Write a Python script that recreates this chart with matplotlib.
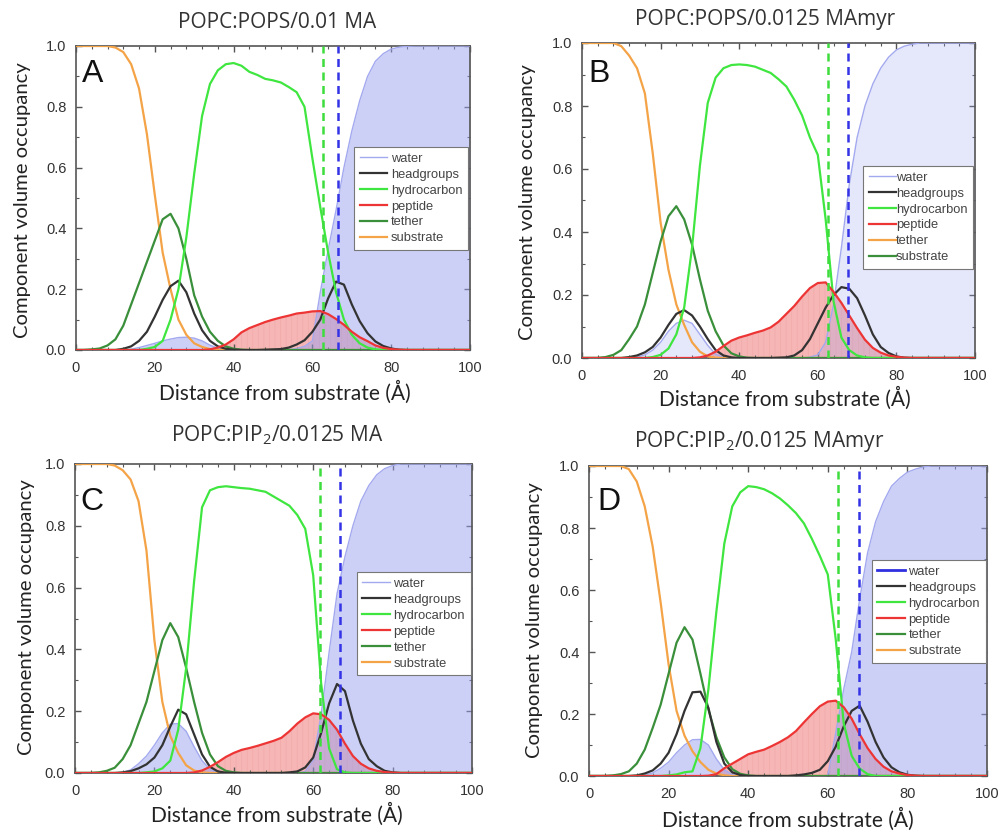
import numpy as np
import matplotlib
matplotlib.use("Agg")
import matplotlib.pyplot as plt
from matplotlib.lines import Line2D
from matplotlib.ticker import MultipleLocator, FormatStrFormatter

plt.rcParams['font.family'] = ['Liberation Sans', 'DejaVu Sans']
plt.rcParams['hatch.linewidth'] = 0.6
plt.rcParams['mathtext.fontset'] = 'custom'
plt.rcParams['mathtext.rm'] = 'Open Sans'

# distance from substrate (Å), sampled every 2 Å
distance = np.arange(0, 101, 2)

# ---------------- POPC:POPS / 0.01 MA ----------------
water_a = [0, 0, 0, 0, 0, 0, 0.001, 0.003, 0.008, 0.015,
           0.022, 0.03, 0.036, 0.041, 0.042, 0.039, 0.03, 0.016, 0.006, 0.002,
           0, 0, 0, 0, 0, 0, 0, 0.002, 0.005, 0.012,
           0.03, 0.19, 0.33, 0.46, 0.6, 0.72, 0.82, 0.9, 0.95, 0.975,
           0.99, 0.996, 0.999, 1, 1, 1, 1, 1, 1, 1,
           1]
headgroups_a = [0, 0, 0, 0, 0, 0, 0.004, 0.012, 0.03, 0.06,
                0.11, 0.165, 0.21, 0.228, 0.19, 0.12, 0.065, 0.03, 0.012, 0.004,
                0.001, 0, 0, 0, 0.001, 0.002, 0.003, 0.008, 0.018, 0.032,
                0.06, 0.1, 0.17, 0.225, 0.215, 0.15, 0.095, 0.055, 0.028, 0.013,
                0.005, 0.001, 0, 0, 0, 0, 0, 0, 0, 0,
                0]
hydrocarbon_a = [0, 0, 0, 0, 0, 0, 0, 0, 0, 0.004,
                 0.01, 0.03, 0.1, 0.2, 0.37, 0.58, 0.77, 0.875, 0.92, 0.94,
                 0.944, 0.935, 0.915, 0.905, 0.892, 0.887, 0.88, 0.865, 0.848, 0.8,
                 0.63, 0.47, 0.32, 0.19, 0.1, 0.05, 0.022, 0.008, 0.002, 0,
                 0, 0, 0, 0, 0, 0, 0, 0, 0, 0,
                 0]
peptide_a = [0, 0, 0, 0, 0, 0, 0, 0, 0, 0,
             0, 0, 0, 0, 0, 0, 0, 0.002, 0.008, 0.018,
             0.035, 0.058, 0.072, 0.082, 0.092, 0.1, 0.107, 0.113, 0.12, 0.123,
             0.127, 0.128, 0.118, 0.102, 0.083, 0.06, 0.042, 0.029, 0.015, 0.007,
             0.003, 0.001, 0, 0, 0, 0, 0, 0, 0, 0,
             0]
tether_a = [0, 0, 0.002, 0.005, 0.015, 0.035, 0.08, 0.15, 0.22, 0.29,
            0.36, 0.43, 0.448, 0.4, 0.3, 0.18, 0.11, 0.06, 0.03, 0.012,
            0.004, 0.001, 0, 0, 0, 0, 0, 0, 0, 0,
            0, 0, 0, 0, 0, 0, 0, 0, 0, 0,
            0, 0, 0, 0, 0, 0, 0, 0, 0, 0,
            0]
substrate_a = [1, 1, 1, 1, 1, 0.995, 0.98, 0.94, 0.86, 0.71,
               0.51, 0.32, 0.2, 0.1, 0.05, 0.022, 0.01, 0.003, 0.001, 0,
               0, 0, 0, 0, 0, 0, 0, 0, 0, 0,
               0, 0, 0, 0, 0, 0, 0, 0, 0, 0,
               0, 0, 0, 0, 0, 0, 0, 0, 0, 0,
               0]

# ---------------- POPC:POPS / 0.0125 MAmyr ----------------
water_b = [0, 0, 0, 0, 0, 0, 0, 0.003, 0.01, 0.025,
           0.05, 0.085, 0.11, 0.12, 0.11, 0.075, 0.04, 0.012, 0.002, 0,
           0, 0, 0, 0, 0, 0, 0, 0, 0, 0.003,
           0.01, 0.05, 0.17, 0.35, 0.55, 0.7, 0.8, 0.87, 0.92, 0.955,
           0.978, 0.99, 0.996, 1, 1, 1, 1, 1, 1, 1,
           1]
headgroups_b = [0, 0, 0, 0, 0, 0, 0.003, 0.008, 0.018, 0.035,
                0.065, 0.105, 0.14, 0.152, 0.135, 0.1, 0.06, 0.025, 0.008, 0.002,
                0, 0, 0, 0, 0, 0.001, 0.002, 0.008, 0.025, 0.06,
                0.11, 0.16, 0.2, 0.225, 0.22, 0.19, 0.135, 0.075, 0.035, 0.016,
                0.005, 0.001, 0, 0, 0, 0, 0, 0, 0, 0,
                0]
hydrocarbon_b = [0, 0, 0, 0, 0, 0, 0, 0, 0, 0.003,
                 0.01, 0.03, 0.075, 0.16, 0.35, 0.61, 0.81, 0.89, 0.92, 0.93,
                 0.932, 0.93, 0.925, 0.915, 0.905, 0.885, 0.862, 0.82, 0.77, 0.7,
                 0.645, 0.44, 0.18, 0.065, 0.025, 0.008, 0.002, 0, 0, 0,
                 0, 0, 0, 0, 0, 0, 0, 0, 0, 0,
                 0]
peptide_b = [0, 0, 0, 0, 0, 0, 0, 0, 0, 0,
             0, 0, 0, 0, 0, 0.002, 0.008, 0.02, 0.038, 0.055,
             0.065, 0.072, 0.08, 0.087, 0.097, 0.115, 0.14, 0.165, 0.195, 0.222,
             0.238, 0.24, 0.21, 0.175, 0.135, 0.095, 0.058, 0.032, 0.017, 0.008,
             0.004, 0.001, 0, 0, 0, 0, 0, 0, 0, 0,
             0]
tether_b = [0, 0, 0, 0.003, 0.01, 0.025, 0.06, 0.1, 0.17, 0.27,
            0.37, 0.45, 0.482, 0.44, 0.36, 0.25, 0.15, 0.085, 0.04, 0.015,
            0.005, 0.001, 0, 0, 0, 0, 0, 0, 0, 0,
            0, 0, 0, 0, 0, 0, 0, 0, 0, 0,
            0, 0, 0, 0, 0, 0, 0, 0, 0, 0,
            0]
substrate_b = [1, 1, 1, 1, 1, 0.99, 0.96, 0.92, 0.84, 0.65,
               0.43, 0.28, 0.17, 0.105, 0.05, 0.02, 0.005, 0.001, 0, 0,
               0, 0, 0, 0, 0, 0, 0, 0, 0, 0,
               0, 0, 0, 0, 0, 0, 0, 0, 0, 0,
               0, 0, 0, 0, 0, 0, 0, 0, 0, 0,
               0]

# ---------------- POPC:PIP2 / 0.0125 MA ----------------
water_c = [0, 0, 0, 0, 0, 0, 0.002, 0.01, 0.03, 0.055,
           0.09, 0.13, 0.158, 0.16, 0.135, 0.085, 0.04, 0.012, 0.002, 0,
           0, 0, 0, 0, 0, 0, 0, 0, 0, 0.005,
           0.04, 0.19, 0.39, 0.58, 0.7, 0.8, 0.88, 0.93, 0.965, 0.985,
           0.995, 1, 1, 1, 1, 1, 1, 1, 1, 1,
           1]
headgroups_c = [0, 0, 0, 0, 0, 0, 0.002, 0.006, 0.015, 0.028,
                0.05, 0.09, 0.15, 0.205, 0.19, 0.125, 0.06, 0.02, 0.005, 0.001,
                0, 0, 0, 0, 0, 0, 0, 0.002, 0.005, 0.018,
                0.05, 0.13, 0.225, 0.288, 0.265, 0.17, 0.095, 0.045, 0.022, 0.007,
                0.002, 0, 0, 0, 0, 0, 0, 0, 0, 0,
                0]
hydrocarbon_c = [0, 0, 0, 0, 0, 0, 0, 0, 0, 0.002,
                 0.005, 0.015, 0.04, 0.14, 0.34, 0.62, 0.86, 0.915, 0.925, 0.928,
                 0.925, 0.922, 0.92, 0.915, 0.91, 0.895, 0.88, 0.865, 0.835, 0.79,
                 0.64, 0.29, 0.08, 0.012, 0.002, 0, 0, 0, 0, 0,
                 0, 0, 0, 0, 0, 0, 0, 0, 0, 0,
                 0]
peptide_c = [0, 0, 0, 0, 0, 0, 0, 0, 0, 0,
             0, 0, 0, 0, 0, 0.002, 0.008, 0.02, 0.035, 0.052,
             0.065, 0.075, 0.081, 0.088, 0.096, 0.104, 0.114, 0.135, 0.16, 0.18,
             0.193, 0.19, 0.172, 0.14, 0.095, 0.055, 0.03, 0.015, 0.007, 0.003,
             0.001, 0, 0, 0, 0, 0, 0, 0, 0, 0,
             0]
tether_c = [0, 0, 0, 0.002, 0.007, 0.017, 0.045, 0.09, 0.16, 0.23,
            0.33, 0.43, 0.485, 0.44, 0.34, 0.23, 0.13, 0.06, 0.022, 0.007,
            0.002, 0, 0, 0, 0, 0, 0, 0, 0, 0,
            0, 0, 0, 0, 0, 0, 0, 0, 0, 0,
            0, 0, 0, 0, 0, 0, 0, 0, 0, 0,
            0]
substrate_c = [1, 1, 1, 1, 1, 0.995, 0.98, 0.95, 0.88, 0.72,
               0.43, 0.23, 0.12, 0.065, 0.025, 0.008, 0.002, 0, 0, 0,
               0, 0, 0, 0, 0, 0, 0, 0, 0, 0,
               0, 0, 0, 0, 0, 0, 0, 0, 0, 0,
               0, 0, 0, 0, 0, 0, 0, 0, 0, 0,
               0]

# ---------------- POPC:PIP2 / 0.0125 MAmyr ----------------
water_d = [0, 0, 0, 0, 0, 0, 0, 0.003, 0.01, 0.025,
           0.045, 0.075, 0.1, 0.117, 0.118, 0.1, 0.055, 0.02, 0.005, 0,
           0, 0, 0, 0, 0, 0, 0, 0, 0, 0,
           0.002, 0.14, 0.28, 0.4, 0.57, 0.72, 0.82, 0.885, 0.935, 0.96,
           0.98, 0.99, 0.997, 1, 1, 1, 1, 1, 1, 1,
           1]
headgroups_d = [0, 0, 0, 0, 0, 0, 0.002, 0.008, 0.018, 0.04,
                0.075, 0.135, 0.21, 0.27, 0.272, 0.22, 0.11, 0.04, 0.012, 0.003,
                0, 0, 0, 0, 0, 0, 0.002, 0.005, 0.01, 0.02,
                0.048, 0.095, 0.16, 0.21, 0.227, 0.175, 0.11, 0.06, 0.028, 0.012,
                0.004, 0.001, 0, 0, 0, 0, 0, 0, 0, 0,
                0]
hydrocarbon_d = [0, 0, 0, 0, 0, 0, 0, 0, 0, 0,
                 0.002, 0.005, 0.012, 0.015, 0.09, 0.28, 0.53, 0.75, 0.87, 0.915,
                 0.935, 0.932, 0.925, 0.912, 0.895, 0.873, 0.848, 0.815, 0.765, 0.71,
                 0.65, 0.44, 0.17, 0.065, 0.024, 0.006, 0, 0, 0, 0,
                 0, 0, 0, 0, 0, 0, 0, 0, 0, 0,
                 0]
peptide_d = [0, 0, 0, 0, 0, 0, 0, 0, 0, 0,
             0, 0, 0, 0, 0, 0.001, 0.006, 0.025, 0.04, 0.055,
             0.07, 0.078, 0.085, 0.097, 0.11, 0.125, 0.145, 0.173, 0.2, 0.225,
             0.24, 0.243, 0.222, 0.185, 0.135, 0.09, 0.055, 0.03, 0.015, 0.008,
             0.003, 0.001, 0, 0, 0, 0, 0, 0, 0, 0,
             0]
tether_d = [0, 0, 0, 0.002, 0.006, 0.015, 0.04, 0.085, 0.155, 0.23,
            0.33, 0.43, 0.48, 0.44, 0.33, 0.215, 0.125, 0.06, 0.022, 0.007,
            0.002, 0, 0, 0, 0, 0, 0, 0, 0, 0,
            0, 0, 0, 0, 0, 0, 0, 0, 0, 0,
            0, 0, 0, 0, 0, 0, 0, 0, 0, 0,
            0]
substrate_d = [1, 1, 1, 1, 1, 0.99, 0.95, 0.87, 0.74, 0.56,
               0.36, 0.21, 0.13, 0.08, 0.045, 0.02, 0.008, 0.002, 0, 0,
               0, 0, 0, 0, 0, 0, 0, 0, 0, 0,
               0, 0, 0, 0, 0, 0, 0, 0, 0, 0,
               0, 0, 0, 0, 0, 0, 0, 0, 0, 0,
               0]

# positions of the hydrocarbon / water boundaries (dashed markers), Å
hydrocarbon_edge = [62.6, 62.5, 61.6, 62.6]
water_edge = [66.6, 67.8, 66.8, 67.8]

panel_titles = ["POPC:POPS/0.01 MA", "POPC:POPS/0.0125 MAmyr",
                r"POPC:PIP$_{\mathregular{2}}$/0.0125 MA",
                r"POPC:PIP$_{\mathregular{2}}$/0.0125 MAmyr"]
panel_letters = ["A", "B", "C", "D"]
legend_labels = ["water", "headgroups", "hydrocarbon", "peptide", "tether", "substrate"]

C_WATER = '#a3a9ef'
C_WATER_FILL = '#9aa2ee'
C_HEAD = '#333333'
C_HYDRO = '#3fe63f'
C_PEP = '#ee3535'
C_PEP_FILL = '#f6b6b6'
C_TETHER = '#3a8f3a'
C_SUB = '#f4a347'

legend_colors = [
    [C_WATER, C_HEAD, C_HYDRO, C_PEP, C_TETHER, C_SUB],
    [C_WATER, C_HEAD, C_HYDRO, C_PEP, C_SUB, C_TETHER],
    [C_WATER, C_HEAD, C_HYDRO, C_PEP, C_TETHER, C_SUB],
    ['#2f2fe0', C_HEAD, C_HYDRO, C_PEP, C_TETHER, C_SUB],
]
legend_widths = [
    [1.0, 1.6, 1.6, 1.6, 1.6, 1.6],
    [1.0, 1.6, 1.6, 1.6, 1.6, 1.6],
    [1.0, 1.6, 1.6, 1.6, 1.6, 1.6],
    [2.0, 1.6, 1.6, 1.6, 1.6, 1.6],
]

W, H = 1003, 832
fig = plt.figure(figsize=(W / 100, H / 100), dpi=100)


def px_box(left, top, right, bottom):
    return [left / W, 1 - bottom / H, (right - left) / W, (bottom - top) / H]


axes_px = [(76, 46, 470, 350), (582, 43, 975, 358),
           (75, 464, 472, 773), (589, 466, 987, 776)]
title_px = [(277, 23), (765, 20), (277, 435), (759, 442)]
xlabel_px = [(285, 392), (785, 398), (277, 814), (788, 819)]
ylabel_px = [(23, 200), (528, 202), (27, 617), (535, 620)]
letter_pos = [(0.015, 0.882), (0.015, 0.876), (0.013, 0.851), (0.02, 0.858)]
legend_anchor = [(0.995, 0.668), (0.995, 0.61), (0.997, 0.65), (0.997, 0.697)]
legend_textpad = [0.3, 0.0, 0.3, 0.3]
water_alpha = [0.5, 0.25, 0.5, 0.5]

profiles = [
    (water_a, headgroups_a, hydrocarbon_a, peptide_a, tether_a, substrate_a),
    (water_b, headgroups_b, hydrocarbon_b, peptide_b, tether_b, substrate_b),
    (water_c, headgroups_c, hydrocarbon_c, peptide_c, tether_c, substrate_c),
    (water_d, headgroups_d, hydrocarbon_d, peptide_d, tether_d, substrate_d),
]

for i, (water, head, hydro, pep, tether, sub) in enumerate(profiles):
    ax = fig.add_axes(px_box(*axes_px[i]))
    # peptide area with fine vertical striping, then translucent water on top
    ax.fill_between(distance, 0, pep, facecolor=C_PEP_FILL, edgecolor='#f2abab',
                    hatch='|||', linewidth=0, zorder=1)
    ax.fill_between(distance, 0, water, color=C_WATER_FILL, alpha=water_alpha[i],
                    linewidth=0, zorder=2)
    ax.plot(distance, water, color=C_WATER, lw=1.0, zorder=3)
    ax.plot(distance, sub, color=C_SUB, lw=1.6, zorder=4)
    ax.plot(distance, tether, color=C_TETHER, lw=1.6, zorder=4)
    ax.plot(distance, head, color=C_HEAD, lw=1.6, zorder=4)
    ax.plot(distance, hydro, color=C_HYDRO, lw=1.6, zorder=5)
    ax.plot(distance, pep, color=C_PEP, lw=1.6, zorder=5)
    ax.axvline(hydrocarbon_edge[i], color='#3ddd3d', lw=1.8, ls=(0, (3.2, 2.2)), zorder=6)
    ax.axvline(water_edge[i], color='#3434e6', lw=1.8, ls=(0, (3.2, 2.2)), zorder=6)

    ax.set_xlim(0, 100)
    ax.set_ylim(0, 1)
    ax.xaxis.set_major_locator(MultipleLocator(20))
    ax.xaxis.set_minor_locator(MultipleLocator(4))
    ax.yaxis.set_major_locator(MultipleLocator(0.2))
    ax.yaxis.set_minor_locator(MultipleLocator(0.1))
    ax.yaxis.set_major_formatter(FormatStrFormatter('%.1f'))
    ax.tick_params(which='both', direction='in', top=True, right=True,
                   colors='#555555', labelcolor='#333333', labelsize=10.5)
    ax.tick_params(axis='x', which='major', pad=8)
    ax.tick_params(axis='y', which='major', pad=7)
    ax.tick_params(which='major', length=4, width=1.0)
    ax.tick_params(which='minor', length=2.5, width=0.8)
    for sp in ax.spines.values():
        sp.set_color('#555555')
        sp.set_linewidth(1.2)

    ax.text(*letter_pos[i], panel_letters[i], transform=ax.transAxes,
            fontsize=23, ha='left', va='baseline', color='#111111', zorder=7)

    handles = [Line2D([], [], color=c, lw=w)
               for c, w in zip(legend_colors[i], legend_widths[i])]
    leg = ax.legend(handles, legend_labels, loc='upper right',
                    bbox_to_anchor=legend_anchor[i], bbox_transform=ax.transAxes,
                    frameon=True, fancybox=False, edgecolor='#777777', framealpha=1,
                    fontsize=9.3, labelcolor='#444444', handlelength=2.1,
                    handletextpad=legend_textpad[i], labelspacing=0.3,
                    borderpad=0.45, borderaxespad=0)
    leg.get_frame().set_linewidth(0.8)
    leg.set_zorder(8)

    tx, ty = title_px[i]
    fig.text(tx / W, 1 - ty / H, panel_titles[i], ha='center', va='center',
             fontsize=15, color='#333333', family=['Open Sans', 'DejaVu Sans'])
    lx, ly = xlabel_px[i]
    fig.text(lx / W, 1 - ly / H, "Distance from substrate (Å)", ha='center',
             va='center', fontsize=15, color='#222222', family=['Lato', 'DejaVu Sans'])
    yx, yy = ylabel_px[i]
    fig.text(yx / W, 1 - yy / H, "Component volume occupancy", ha='center',
             va='center', rotation=90, fontsize=14.6, color='#222222',
             family=['Lato', 'DejaVu Sans'])

fig.savefig("out.png", dpi=100)
